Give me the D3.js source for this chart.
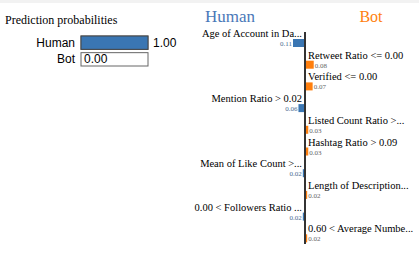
<!DOCTYPE html>
<html>
<head>
<meta charset="utf-8">
<script src="https://cdn.jsdelivr.net/npm/d3@7"></script>
<style>
  body { margin: 0; background: #fff; }
  svg { display: block; }
</style>
</head>
<body>
<svg width="419" height="260"></svg>
<script>
const classNames = ["Human", "Bot"]
const probabilities = [1.00, 0.00]

const featureLabels = [
    "Age of Account in Da...",
    "Retweet Ratio <= 0.00",
    "Verified <= 0.00",
    "Mention Ratio > 0.02",
    "Listed Count Ratio >...",
    "Hashtag Ratio > 0.09",
    "Mean of Like Count >...",
    "Length of Description...",
    "0.00 < Followers Ratio ...",
    "0.60 < Average Numbe..."
]
// signed weights: negative = Human, positive = Bot
const featureWeights = [-0.11, 0.08, 0.07, -0.06, 0.03, 0.03, -0.02, 0.02, -0.02, 0.02]

const blue = "#3a76b3"
const orange = "#ff7f0e"
const serif = "'Liberation Serif', 'Times New Roman', Times, 'DejaVu Serif', serif"
const sans = "'Liberation Sans', Arial, sans-serif"

const svg = d3.select("svg")

svg.append("rect").attr("x", 0).attr("y", 0).attr("width", 419).attr("height", 3).attr("fill", "#f2f2f2")

// prediction probabilities panel
svg.append("text")
    .attr("x", 5).attr("y", 24)
    .attr("font-family", serif)
    .attr("font-size", 12)
    .text("Prediction probabilities")

const px = d3.scaleLinear().domain([0, 1]).range([81, 148])
const py = d3.scaleBand().domain(classNames).range([36, 66]).paddingInner(0.2)

const prob = svg.append("g").selectAll("g")
    .data(classNames)
    .enter().append("g")

prob.append("text")
    .attr("x", 75)
    .attr("y", d => py(d) + py.bandwidth() / 2 + 4)
    .attr("text-anchor", "end")
    .attr("font-family", sans)
    .attr("font-size", 12)
    .text(d => d)

prob.append("rect")
    .attr("x", px(0))
    .attr("y", d => py(d))
    .attr("width", px(1) - px(0))
    .attr("height", py.bandwidth())
    .attr("fill", "#fff")
    .attr("stroke", "#666")
    .attr("stroke-width", 1)

prob.append("rect")
    .attr("x", px(0))
    .attr("y", d => py(d))
    .attr("width", (d, i) => px(probabilities[i]) - px(0))
    .attr("height", py.bandwidth())
    .attr("fill", blue)
    .attr("stroke", "#444")
    .attr("stroke-width", (d, i) => probabilities[i] > 0 ? 1 : 0)

prob.append("text")
    .attr("x", (d, i) => probabilities[i] > 0.5 ? px(probabilities[i]) + 5 : px(0) + 3)
    .attr("y", d => py(d) + py.bandwidth() / 2 + 4)
    .attr("font-family", sans)
    .attr("font-size", 12)
    .text((d, i) => probabilities[i].toFixed(2))

// explanation panel
const x0 = 305
const wx = d3.scaleLinear().domain([-0.11, 0.11]).range([x0 - 12, x0 + 12])
const ry = d3.scaleBand().domain(d3.range(featureLabels.length)).range([24, 241])

svg.append("text")
    .attr("x", 230).attr("y", 22)
    .attr("text-anchor", "middle")
    .attr("fill", "#4a78b8")
    .attr("font-family", serif)
    .attr("font-size", 17)
    .text(classNames[0])

svg.append("text")
    .attr("x", 371).attr("y", 22)
    .attr("text-anchor", "middle")
    .attr("fill", orange)
    .attr("font-family", serif)
    .attr("font-size", 16)
    .text(classNames[1])

const rows = svg.append("g").selectAll("g")
    .data(featureLabels)
    .enter().append("g")
    .attr("transform", (d, i) => "translate(0," + ry(i) + ")")

rows.append("text")
    .attr("x", (d, i) => featureWeights[i] < 0 ? x0 - 3 : x0 + 3)
    .attr("y", 13)
    .attr("text-anchor", (d, i) => featureWeights[i] < 0 ? "end" : "start")
    .attr("font-family", serif)
    .attr("font-size", 10.5)
    .text(d => d)

rows.append("rect")
    .attr("x", (d, i) => Math.min(wx(0), wx(featureWeights[i])))
    .attr("y", 15)
    .attr("width", (d, i) => Math.abs(wx(featureWeights[i]) - wx(0)))
    .attr("height", 8)
    .attr("fill", (d, i) => featureWeights[i] < 0 ? blue : orange)

rows.append("text")
    .attr("x", (d, i) => featureWeights[i] < 0 ? wx(featureWeights[i]) - 1 : wx(featureWeights[i]) + 1)
    .attr("y", 22)
    .attr("text-anchor", (d, i) => featureWeights[i] < 0 ? "end" : "start")
    .attr("fill", (d, i) => featureWeights[i] < 0 ? "#4a6a90" : "#666")
    .attr("font-family", serif)
    .attr("font-size", 7)
    .text((d, i) => Math.abs(featureWeights[i]).toFixed(2))

svg.append("line")
    .attr("x1", x0).attr("x2", x0)
    .attr("y1", 32).attr("y2", 244)
    .attr("stroke", "#333")
    .attr("stroke-width", 2)
</script>
</body>
</html>
